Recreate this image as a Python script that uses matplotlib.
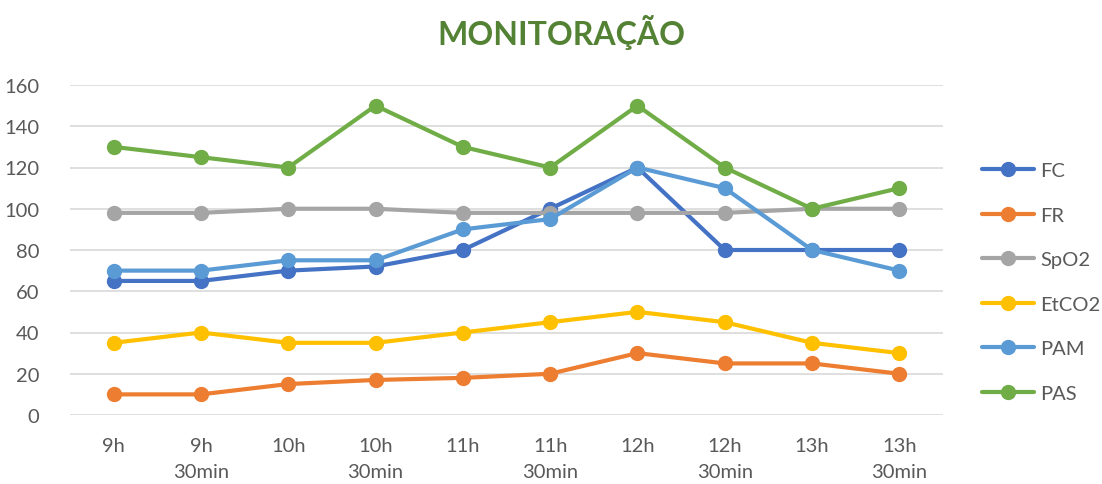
import matplotlib.pyplot as plt

# chart data
categories = ["9h", "9h\n30min", "10h", "10h\n30min", "11h", "11h\n30min",
              "12h", "12h\n30min", "13h", "13h\n30min"]
fc = [65, 65, 70, 72, 80, 100, 120, 80, 80, 80]
fr = [10, 10, 15, 17, 18, 20, 30, 25, 25, 20]
spo2 = [98, 98, 100, 100, 98, 98, 98, 98, 100, 100]
etco2 = [35, 40, 35, 35, 40, 45, 50, 45, 35, 30]
pam = [70, 70, 75, 75, 90, 95, 120, 110, 80, 70]
pas = [130, 125, 120, 150, 130, 120, 150, 120, 100, 110]

series = [
    ("FC", fc, "#4472C4"),
    ("FR", fr, "#ED7D31"),
    ("SpO2", spo2, "#A5A5A5"),
    ("EtCO2", etco2, "#FFC000"),
    ("PAM", pam, "#5B9BD5"),
    ("PAS", pas, "#70AD47"),
]

plt.rcParams["font.family"] = ["Lato", "DejaVu Sans"]

fig = plt.figure(figsize=(11.02, 4.85), dpi=100)
ax = fig.add_axes([70 / 1102, 1 - 416 / 485, (943 - 70) / 1102, (416 - 86) / 485])

x = range(len(categories))
for name, vals, color in series:
    ax.plot(x, vals, color=color, lw=3, marker="o", markersize=10,
            label=name, solid_capstyle="round", zorder=3)

ax.set_xlim(-0.5, len(categories) - 0.5)
ax.set_ylim(0, 160)
ax.set_yticks(range(0, 161, 20))
ax.set_xticks(list(x))
ax.set_xticklabels(categories, linespacing=1.6)
ax.grid(axis="y", color="#D9D9D9", lw=1.2, zorder=0)
for s in ax.spines.values():
    s.set_visible(False)
ax.tick_params(length=0, labelsize=14.5, colors="#595959")
ax.tick_params(axis="x", pad=16)
ax.tick_params(axis="y", pad=22)

fig.text(561 / 1102, 1 - 32 / 485, "MONITORAÇÃO", ha="center", va="center",
         fontsize=23, fontweight="bold", color="#548235")

ax.legend(loc="center left", bbox_to_anchor=(964 / 1102, 1 - 283 / 485),
          bbox_transform=fig.transFigure, frameon=False, fontsize=14.5,
          handlelength=2.6, labelspacing=1.36, handletextpad=0.3,
          labelcolor="#595959")

fig.savefig("out.png", dpi=100)
